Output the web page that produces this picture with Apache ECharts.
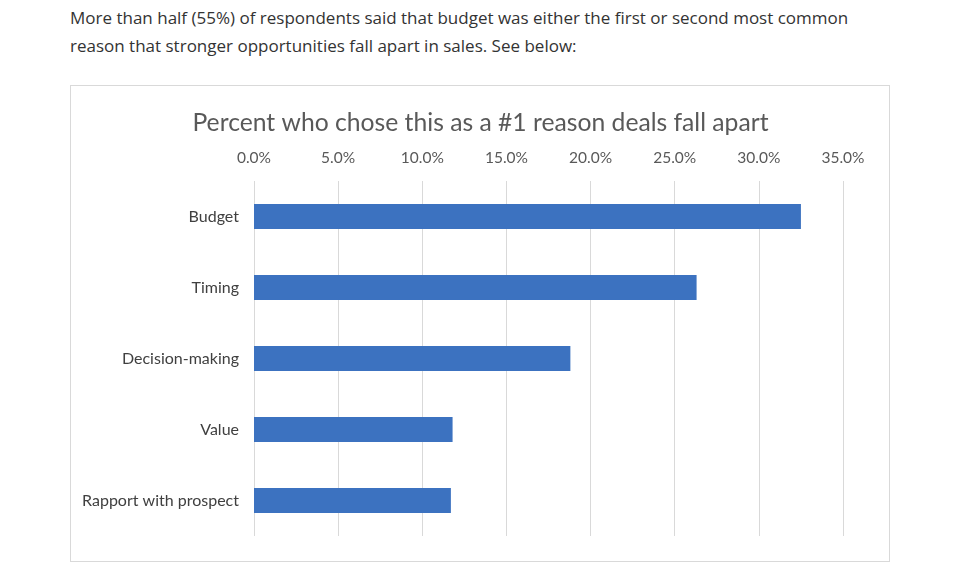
<!DOCTYPE html>
<html>
<head>
<meta charset="utf-8">
<script src="https://cdn.jsdelivr.net/npm/echarts@6/dist/echarts.min.js"></script>
<style>
  html, body { margin: 0; padding: 0; background: #fff; }
  #intro { position: absolute; left: 70px; top: 4px; width: 815px; font-family: "Open Sans", sans-serif; font-size: 17px; line-height: 28px; color: #333; }
  #box { position: absolute; left: 70px; top: 85px; width: 820px; height: 477px; border: 1px solid #d9d9d9; box-sizing: border-box; }
  #chart { position: absolute; left: 0; top: 0; width: 961px; height: 564px; }
</style>
</head>
<body>
<div id="intro">More than half (55%) of respondents said that budget was either the first or second most common reason that stronger opportunities fall apart in sales. See below:</div>
<div id="box"></div>
<div id="chart"></div>
<script>
const categories = ["Budget", "Timing", "Decision-making", "Value", "Rapport with prospect"];
const values = [32.5, 26.3, 18.8, 11.8, 11.7];
const titleText = "Percent who chose this as a #1 reason deals fall apart";
const axisMin = 0, axisMax = 35, axisStep = 5;

const chart = echarts.init(document.getElementById('chart'), null, { renderer: 'canvas' });
chart.setOption({
  animation: false,
  title: {
    text: titleText,
    left: 'center',
    top: 106,
    textStyle: { fontFamily: 'Lato', fontWeight: 'normal', fontSize: 24.7, color: '#595959' }
  },
  grid: { left: 254, right: 118, top: 181, bottom: 28 },
  xAxis: {
    type: 'value',
    position: 'top',
    min: axisMin, max: axisMax, interval: axisStep,
    axisLine: { show: false },
    axisTick: { show: false },
    axisLabel: {
      formatter: v => v.toFixed(1) + '%',
      fontFamily: 'Lato', fontSize: 15.5, color: '#595959', margin: 15
    },
    splitLine: { show: true, lineStyle: { color: '#d9d9d9', width: 1 } }
  },
  yAxis: {
    type: 'category',
    inverse: true,
    data: categories,
    axisLine: { show: false },
    axisTick: { show: false },
    axisLabel: { fontFamily: 'Lato', fontSize: 16, color: '#404040', margin: 15 }
  },
  series: [{
    type: 'bar',
    data: values,
    barWidth: 25,
    itemStyle: { color: '#3C72C0' }
  }]
});
</script>
</body>
</html>
